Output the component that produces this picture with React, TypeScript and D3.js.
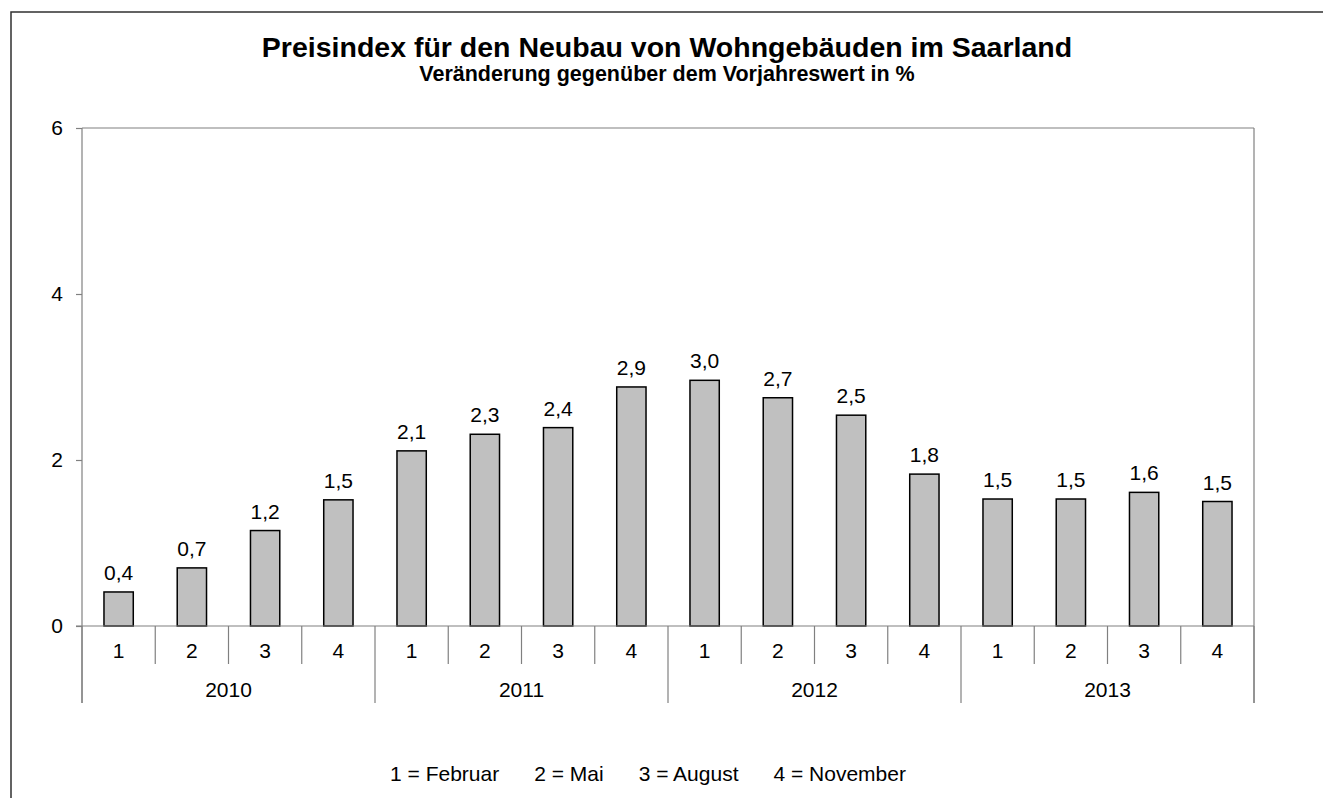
import React, { useEffect, useRef } from 'react';
import * as d3 from 'd3';

// Quarter index within each year and the years
const years = ['2010', '2011', '2012', '2013'];
const quarters = ['1', '2', '3', '4'];
// bar heights
const values = [0.41, 0.70, 1.15, 1.52, 2.11, 2.31, 2.39, 2.88, 2.96, 2.75, 2.54, 1.83, 1.53, 1.53, 1.61, 1.50];
// printed labels above the bars
const valueLabels = ['0,4', '0,7', '1,2', '1,5', '2,1', '2,3', '2,4', '2,9', '3,0', '2,7', '2,5', '1,8', '1,5', '1,5', '1,6', '1,5'];
const yTicks = [0, 2, 4, 6];
const legendItems = ['1 = Februar', '2 = Mai', '3 = August', '4 = November'];

const title = 'Preisindex für den Neubau von Wohngebäuden im Saarland';
const subtitle = 'Veränderung gegenüber dem Vorjahreswert in %';

const FONT = 'Arial, "Liberation Sans", sans-serif';
const LABEL_SIZE = 21;

const App: React.FC = () => {
  const svgRef = useRef<SVGSVGElement>(null);

  useEffect(() => {
    if (!svgRef.current) return;
    const width = 1323;
    const height = 798;

    const svg = d3.select(svgRef.current);
    svg.selectAll('*').remove();
    svg.attr('width', width).attr('height', height);

    // outer frame (cut off at right and bottom like the source image)
    svg.append('rect')
      .attr('x', 11)
      .attr('y', 12)
      .attr('width', 1340)
      .attr('height', 820)
      .attr('fill', 'none')
      .attr('stroke', '#303030')
      .attr('stroke-width', 1.5);

    // titles
    svg.append('text')
      .attr('x', 667)
      .attr('y', 57)
      .attr('text-anchor', 'middle')
      .attr('font-family', FONT)
      .attr('font-weight', 'bold')
      .attr('font-size', 28.5)
      .text(title);

    svg.append('text')
      .attr('x', 667)
      .attr('y', 81)
      .attr('text-anchor', 'middle')
      .attr('font-family', FONT)
      .attr('font-weight', 'bold')
      .attr('font-size', 21.5)
      .text(subtitle);

    const left = 82;
    const right = 1254;
    const top = 128;
    const zeroY = 626;

    const categories = years.flatMap(y => quarters.map(q => `${y}-${q}`));

    const xSlot = d3.scaleBand<string>()
      .domain(categories)
      .range([left, right])
      .padding(0);

    const xBar = d3.scaleBand<string>()
      .domain(categories)
      .range([left, right])
      .paddingInner(0.6)
      .paddingOuter(0.3);

    const yScale = d3.scaleLinear()
      .domain([0, 6])
      .range([zeroY, top]);

    const g = svg.append('g');
    const axisColor = '#808080';

    // plot area border (top + right) and the y axis
    g.append('line')
      .attr('x1', left).attr('x2', right)
      .attr('y1', yScale(6)).attr('y2', yScale(6))
      .attr('stroke', axisColor).attr('stroke-width', 1.2);
    g.append('line')
      .attr('x1', right).attr('x2', right)
      .attr('y1', yScale(6)).attr('y2', 703)
      .attr('stroke', axisColor).attr('stroke-width', 1.2);

    const yAxis = g.append('g')
      .attr('transform', `translate(${left},0)`)
      .call(d3.axisLeft(yScale).tickValues(yTicks).tickSize(6).tickPadding(13).tickFormat(d => String(d)));
    yAxis.select('.domain').remove();
    yAxis.selectAll('line').attr('stroke', axisColor).attr('stroke-width', 1.2);
    yAxis.selectAll('text')
      .attr('font-family', FONT)
      .attr('font-size', LABEL_SIZE)
      .attr('fill', '#000');

    g.append('line')
      .attr('x1', left).attr('x2', left)
      .attr('y1', yScale(6)).attr('y2', 703)
      .attr('stroke', axisColor).attr('stroke-width', 1.2);

    // bars
    g.selectAll('rect.bar')
      .data(values)
      .enter()
      .append('rect')
      .attr('class', 'bar')
      .attr('x', (_, i) => xBar(categories[i]) as number)
      .attr('y', d => yScale(d))
      .attr('width', xBar.bandwidth())
      .attr('height', d => zeroY - yScale(d))
      .attr('fill', '#c0c0c0')
      .attr('stroke', '#000')
      .attr('stroke-width', 1.5);

    // value labels
    g.selectAll('text.value')
      .data(values)
      .enter()
      .append('text')
      .attr('class', 'value')
      .attr('x', (_, i) => (xBar(categories[i]) as number) + xBar.bandwidth() / 2)
      .attr('y', d => yScale(d) - 12)
      .attr('text-anchor', 'middle')
      .attr('font-family', FONT)
      .attr('font-size', LABEL_SIZE)
      .text((_, i) => valueLabels[i]);

    // zero line
    g.append('line')
      .attr('x1', left - 6).attr('x2', right)
      .attr('y1', zeroY).attr('y2', zeroY)
      .attr('stroke', axisColor).attr('stroke-width', 1.2);

    // category separators: short inside a year, long at year boundaries
    const boundaries = d3.range(categories.length + 1);
    g.selectAll('line.sep')
      .data(boundaries)
      .enter()
      .append('line')
      .attr('class', 'sep')
      .attr('x1', i => left + i * xSlot.step())
      .attr('x2', i => left + i * xSlot.step())
      .attr('y1', zeroY)
      .attr('y2', i => (i % quarters.length === 0 ? 703 : 664))
      .attr('stroke', axisColor)
      .attr('stroke-width', 1.2);

    // quarter labels
    g.selectAll('text.q')
      .data(categories)
      .enter()
      .append('text')
      .attr('class', 'q')
      .attr('x', d => (xSlot(d) as number) + xSlot.bandwidth() / 2)
      .attr('y', 658)
      .attr('text-anchor', 'middle')
      .attr('font-family', FONT)
      .attr('font-size', LABEL_SIZE)
      .text(d => d.split('-')[1]);

    // year labels
    g.selectAll('text.year')
      .data(years)
      .enter()
      .append('text')
      .attr('class', 'year')
      .attr('x', y => {
        const a = xSlot(`${y}-${quarters[0]}`) as number;
        const b = (xSlot(`${y}-${quarters[quarters.length - 1]}`) as number) + xSlot.bandwidth();
        return (a + b) / 2;
      })
      .attr('y', 697)
      .attr('text-anchor', 'middle')
      .attr('font-family', FONT)
      .attr('font-size', LABEL_SIZE)
      .text(y => y);

    // legend line: items laid out one after the other, centred as a group
    const legend = svg.append('g');
    const items = legend.selectAll('text')
      .data(legendItems)
      .enter()
      .append('text')
      .attr('y', 781)
      .attr('font-family', FONT)
      .attr('font-size', LABEL_SIZE)
      .text(d => d);
    const gap = 35;
    const widths: number[] = [];
    items.each(function () {
      widths.push((this as SVGTextElement).getComputedTextLength());
    });
    const total = d3.sum(widths) + gap * (widths.length - 1);
    let cursor = 648 - total / 2;
    items.attr('x', (_, i) => {
      const x = cursor;
      cursor += widths[i] + gap;
      return x;
    });
  }, []);

  return (
    <div style={{ position: 'absolute', left: 0, top: 0 }}>
      <svg ref={svgRef} style={{ display: 'block', background: '#fff' }}></svg>
    </div>
  );
};

export default App;
